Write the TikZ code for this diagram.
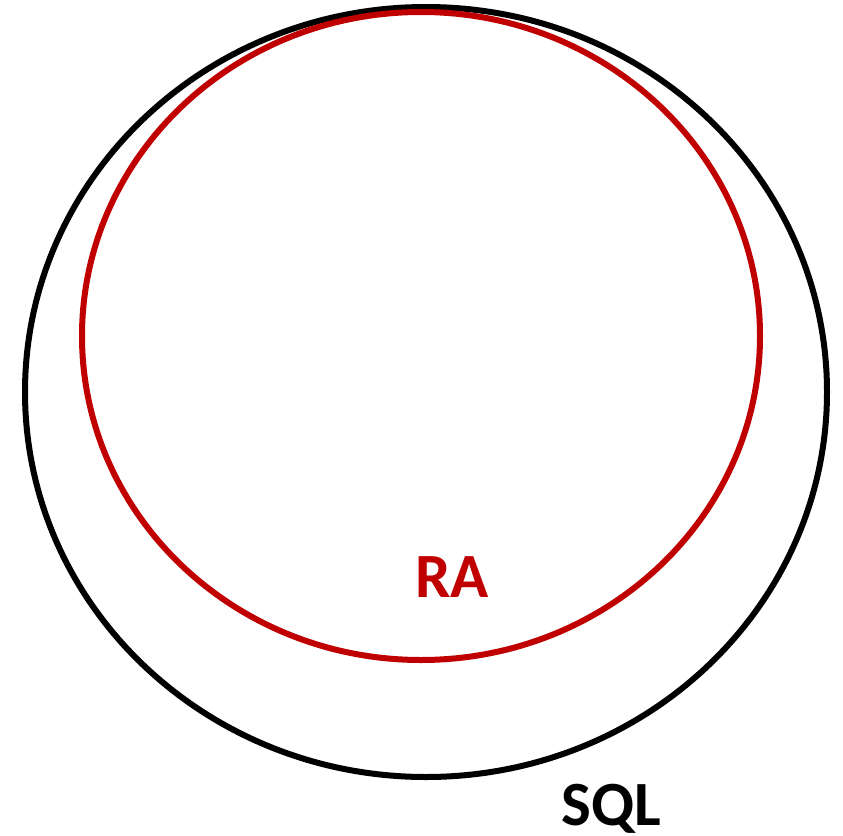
\documentclass[tikz,border=0pt]{standalone}
\usepackage{fontspec}
\setmainfont{Carlito}
\definecolor{rared}{RGB}{192,0,0}
\begin{document}
\begin{tikzpicture}[x=1pt,y=-1pt,
  ring/.style={line width=6pt},
  lbl/.style={font=\bfseries\fontsize{63}{63}\selectfont, inner sep=0pt, anchor=base west}]
\useasboundingbox (0,0) rectangle (843,835);
\draw[ring, black] (426,392) ellipse [x radius=401, y radius=385];
\draw[ring, rared] (421,336) ellipse [x radius=339, y radius=324];
\node[lbl, text=rared] (ra) at (415,597) {RA};
\node[lbl, text=black] (sql) at (561,825) {SQL};
\end{tikzpicture}
\end{document}
